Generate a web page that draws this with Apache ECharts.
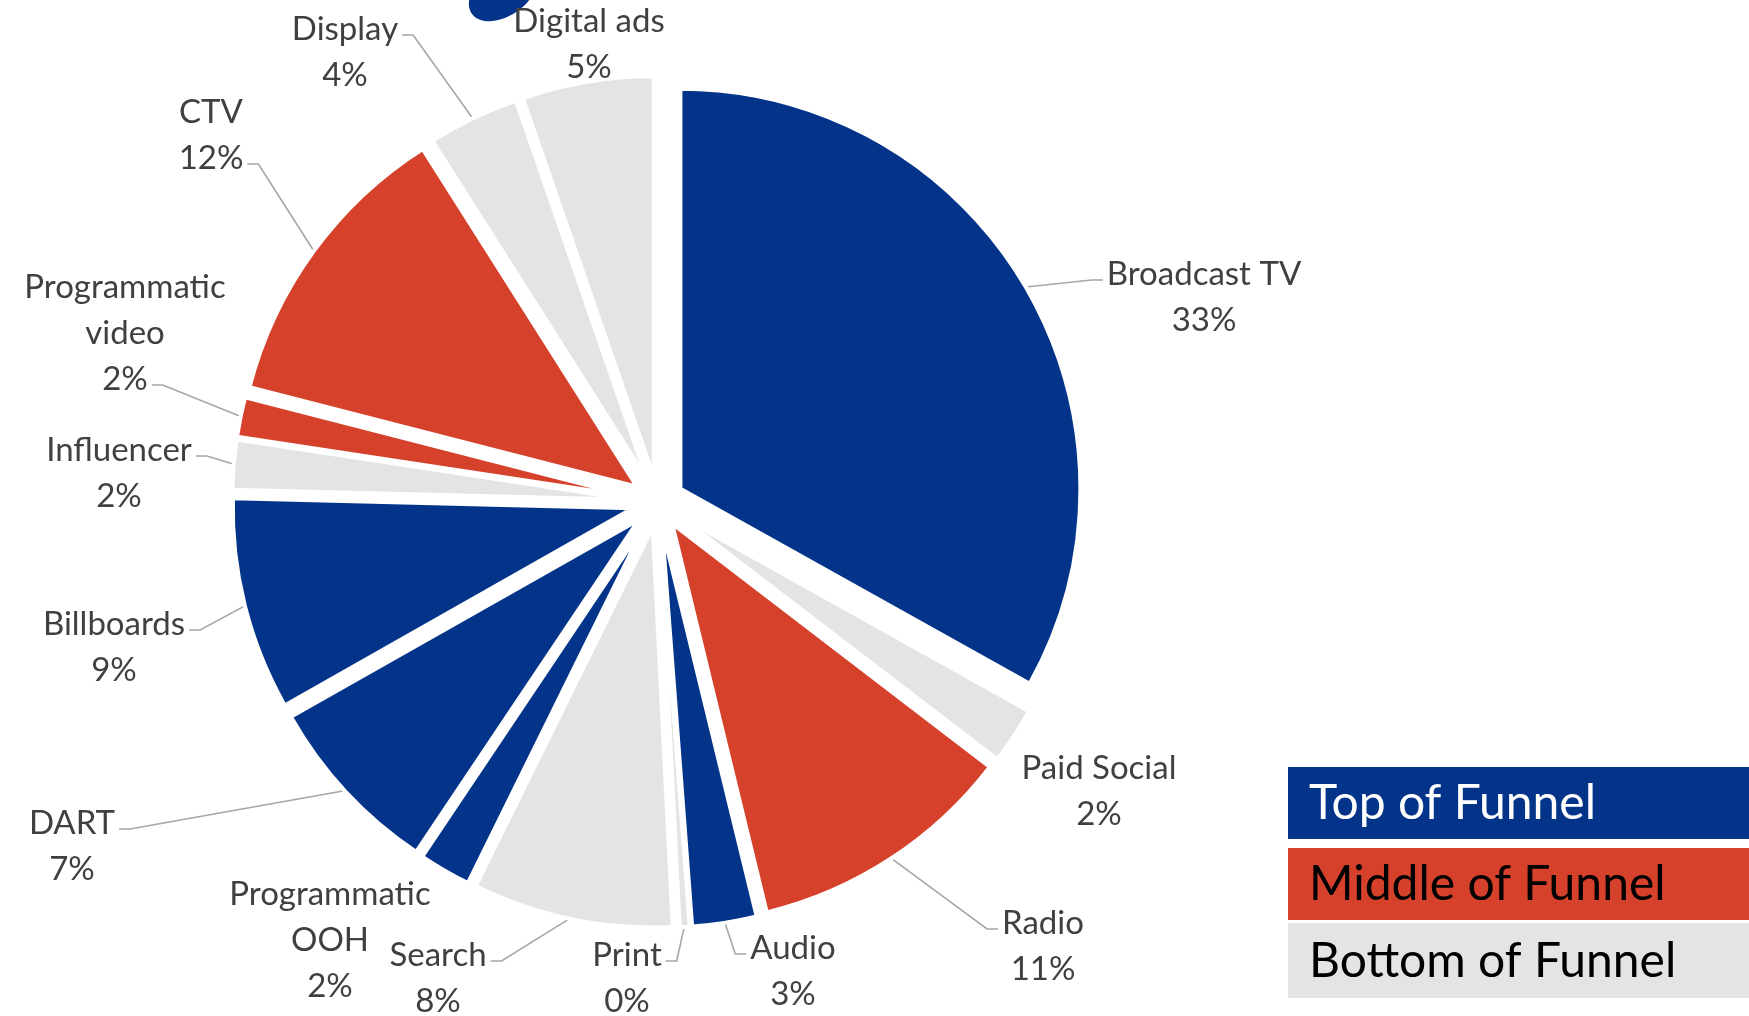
<!DOCTYPE html>
<html>
<head>
<meta charset="utf-8">
<script src="https://cdn.jsdelivr.net/npm/echarts@6/dist/echarts.min.js"></script>
<style>
  html, body { margin: 0; padding: 0; background: #ffffff; }
  #chart { width: 1749px; height: 1016px; }
</style>
</head>
<body>
<div id="chart"></div>
<script>
// Media mix by channel (share of spend, %), clockwise from 12 o'clock
const channels = ['Broadcast TV', 'Paid Social', 'Radio', 'Audio', 'Print', 'Search',
  'Programmatic OOH', 'DART', 'Billboards', 'Influencer', 'Programmatic video', 'CTV',
  'Display', 'Digital ads'];
const shares = [33.1, 2.3, 10.8, 2.6, 0.4, 8.1, 2.1, 7.4, 8.6, 2.0, 1.6, 12.0, 3.7, 5.3];
// 0 = top, 1 = middle, 2 = bottom of funnel
const funnelStage = [0, 2, 1, 0, 2, 2, 0, 0, 0, 2, 1, 1, 2, 2];
const stageNames = ['Top of Funnel', 'Middle of Funnel', 'Bottom of Funnel'];

// ---- styling / layout ----
const stageColors = ['#03348A', '#D6412C', '#E4E4E4'];
const stageTextColors = ['#FFFFFF', '#000000', '#000000'];
const CX = 658, CY = 502;       // pie centre
const R = 398;                   // visible slice radius
const BORDER = 4;                // white separation between slices
const EXPLODE = 26;              // outward offset of every slice
const FONT = 'Lato';
const FONT_SIZE = 33;
const LINE_H = 46;

// label block centres (Excel "best fit" placement)
const labelSpots = {
  'Broadcast TV': [1204, 297], 'Paid Social': [1099, 791], 'Radio': [1043, 946],
  'Audio': [793, 971], 'Print': [627, 978], 'Search': [438, 978],
  'Programmatic OOH': [330, 940], 'DART': [72, 846], 'Billboards': [114, 647],
  'Influencer': [119, 473], 'Programmatic video': [125, 333], 'CTV': [211, 135],
  'Display': [345, 52], 'Digital ads': [589, 44]
};
const noLeader = new Set(['Paid Social', 'Programmatic OOH', 'Digital ads']);
// text line a leader attaches to, when not the one nearest its slice
const leaderLineOverride = { 'Display': 0 };

function labelText(name, value) {
  return name.replace('Programmatic ', 'Programmatic\n') + '\n' + Math.round(value) + '%';
}

// mid-angle of each slice, measured clockwise from 12 o'clock
const total = shares.reduce((a, b) => a + b, 0);
const midAngles = [];
(function () {
  let acc = 0;
  shares.forEach(v => { midAngles.push((acc + v / 2) / total * Math.PI * 2); acc += v; });
})();

const measureCtx = document.createElement('canvas').getContext('2d');
measureCtx.font = FONT_SIZE + 'px ' + FONT;

function sliceCentre(i) {
  const m = midAngles[i];
  return [CX + EXPLODE * Math.sin(m), CY - EXPLODE * Math.cos(m)];
}

function leaderPoints(i) {
  const name = channels[i];
  const m = midAngles[i];
  const c = sliceCentre(i);
  const ax = c[0] + R * Math.sin(m);
  const ay = c[1] - R * Math.cos(m);
  const spot = labelSpots[name];
  const lines = labelText(name, shares[i]).split('\n');
  const top = spot[1] - lines.length * LINE_H / 2;
  let li = Math.round((ay - top - LINE_H / 2) / LINE_H);
  li = Math.max(0, Math.min(lines.length - 1, li));
  if (leaderLineOverride[name] != null) li = leaderLineOverride[name];
  const ey = top + LINE_H * (li + 0.5) + 6;
  const w = measureCtx.measureText(lines[li]).width;
  const leftSide = ax < spot[0];
  const ex = leftSide ? spot[0] - w / 2 - 4 : spot[0] + w / 2 + 4;
  const kx = leftSide ? ex - 11 : ex + 11;
  return [[ax, ay], [kx, ey], [ex, ey]];
}

const chart = echarts.init(document.getElementById('chart'));

const graphics = [];
stageNames.forEach((s, k) => {
  const boxTop = [767, 848, 923][k];
  const boxH = [72, 72, 75][k];
  graphics.push({
    type: 'rect', shape: { x: 1288, y: boxTop, width: 461, height: boxH },
    style: { fill: stageColors[k] }, silent: true
  });
  graphics.push({
    type: 'text', x: 1309, y: boxTop + boxH / 2 + 1,
    style: { text: s, fill: stageTextColors[k], fontSize: 48, fontFamily: FONT, verticalAlign: 'middle' },
    silent: true
  });
});
graphics.push({
  type: 'ellipse', x: 503, y: -8, rotation: 0.6,
  shape: { cx: 0, cy: 0, rx: 38, ry: 24 },
  style: { fill: stageColors[0] }, silent: true
});

// One pie layer per channel: every layer shares the same angles, shows only
// its own slice, and is shifted outward along that slice's bisector.
const hiddenItem = {
  itemStyle: { color: 'rgba(0,0,0,0)', borderWidth: 0 },
  label: { show: false }, labelLine: { show: false }
};
const series = channels.map((name, i) => ({
  type: 'pie',
  name: name,
  silent: true,
  center: sliceCentre(i),
  radius: R + BORDER / 2,
  startAngle: 90,
  clockwise: true,
  avoidLabelOverlap: false,
  data: channels.map((n, j) => Object.assign({ name: n, value: shares[j] },
    j === i ? {
      itemStyle: { color: stageColors[funnelStage[j]], borderColor: '#ffffff', borderWidth: BORDER },
      labelLine: { show: !noLeader.has(n) }
    } : hiddenItem)),
  label: {
    show: true,
    formatter: p => labelText(p.name, p.value),
    fontFamily: FONT, fontSize: FONT_SIZE, lineHeight: LINE_H,
    color: '#404040', align: 'center'
  },
  labelLine: { show: true, lineStyle: { color: '#A6A6A6', width: 1.6 } },
  labelLayout: function (params) {
    if (params.dataIndex !== i) return {};
    const spot = labelSpots[name];
    return {
      x: spot[0], y: spot[1], align: 'center', verticalAlign: 'middle',
      labelLinePoints: leaderPoints(i)
    };
  },
  emphasis: { disabled: true }
}));

chart.setOption({
  animation: false,
  backgroundColor: '#ffffff',
  graphic: graphics,
  series: series
});
</script>
</body>
</html>
